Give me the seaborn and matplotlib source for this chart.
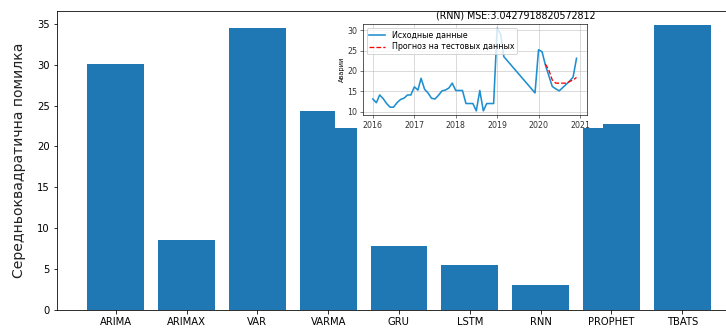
import pandas as pd
import matplotlib.pyplot as plt
import numpy as np
import seaborn as sns
from matplotlib.patches import Rectangle

models = ['ARIMA', 'ARIMAX', 'VAR', 'VARMA', 'GRU', 'LSTM', 'RNN', 'PROPHET', 'TBATS']
mse = [30.1, 8.6, 34.5, 24.3, 7.8, 5.5, 3.04, 22.8, 34.9]

# inset: monthly accidents, RNN forecast
dates_actual = (list(pd.date_range('2016-01-01', '2018-12-01', freq='MS'))
                + list(pd.to_datetime(['2019-01-01', '2019-02-01', '2019-03-01', '2019-12-01']))
                + list(pd.date_range('2020-01-01', '2020-12-01', freq='MS')))
actual = [13.1, 12.2, 14.1, 13.2, 12.0, 11.1, 11.1, 12.2, 13.0, 13.3, 14.1, 14.1,
          16.1, 15.3, 18.2, 15.5, 14.6, 13.3, 13.1, 14.0, 15.1, 15.3, 15.8, 17.0,
          15.2, 15.2, 15.2, 12.0, 12.0, 12.0, 10.2, 15.2, 10.2, 12.0, 12.0, 12.0,
          30.5, 29.0, 23.5, 14.6,
          25.2, 24.7, 21.5, 18.8, 16.2, 15.6, 15.1, 15.9, 16.7, 17.5, 18.5, 23.1]
dates_pred = pd.date_range('2020-03-01', '2020-12-01', freq='MS')
pred = [21.7, 20.2, 17.8, 17.0, 17.0, 17.0, 17.0, 17.4, 17.8, 18.4]

W, H = 726, 333
fig = plt.figure(figsize=(W / 72, H / 72), dpi=72)

ax = fig.add_axes([57 / W, 1 - 310 / H, 684 / W, 299.3 / H])
df = pd.DataFrame({'model': models, 'mse': mse})
sns.barplot(data=df, x='model', y='mse', color='#1f77b4', saturation=1, ax=ax)
ax.set_xlim(-0.83, 8.83)
ax.set_ylim(0, 36.6)
ax.set_xlabel('')
ax.set_ylabel('Середньоквадратична помилка', fontsize=14, color='#222222')
ax.yaxis.set_label_coords(-0.045, 0.5)
ax.tick_params(labelsize=10)

# white patch of the pasted inset
fig.add_artist(Rectangle((335 / W, 1 - 128 / H), 268 / W, 116 / H,
                         transform=fig.transFigure, facecolor='white',
                         edgecolor='none', zorder=1))

s = 0.79
ins = fig.add_axes([362.7 / W, 1 - 115 / H, 224 / W, 91 / H], zorder=2)
sns.lineplot(x=dates_actual, y=actual, color='#1f8fd0', lw=1.6,
             label='Исходные данные', ax=ins)
sns.lineplot(x=dates_pred, y=pred, color='red', lw=1.3, linestyle='--',
             label='Прогноз на тестовых данных', ax=ins)
ins.grid(True, color='#b0b0b0', lw=0.8 * s, alpha=0.7)
ins.set_xlabel('')
ins.set_ylabel('Аварии', fontsize=6.5, labelpad=2)
ins.tick_params(labelsize=7.9, length=3.5 * s, width=0.8 * s, pad=3.5 * s,
                colors='#333333')
for sp in ins.spines.values():
    sp.set_linewidth(0.8 * s)
ins.legend(loc='upper left', fontsize=7.9, handlelength=2.0,
           borderpad=0.35, labelspacing=0.35)

fig.text(516 / W, 1 - 15 / H, '(RNN) MSE:3.0427918820572812',
         ha='center', va='center', fontsize=9.5, zorder=3)

fig.savefig('out.png', dpi=72)
